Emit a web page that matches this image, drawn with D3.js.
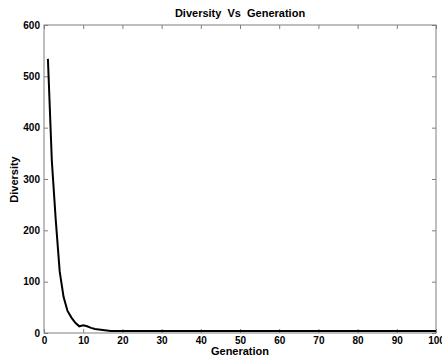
<!DOCTYPE html>
<html><head><meta charset="utf-8">
<script src="https://cdn.jsdelivr.net/npm/d3@7"></script>
<style>body{margin:0;background:#fff}svg{display:block}</style>
</head><body>
<script>
const generations = d3.range(1, 101);
const diversity = [534, 335, 220, 120, 70, 43, 30, 20, 13, 15, 13, 10, 8, 7, 6, 5]
  .concat(d3.range(17, 101).map(() => 4));
const xTicks = [0,10,20,30,40,50,60,70,80,90,100];
const yTicks = [0,100,200,300,400,500,600];
const title = "Diversity  Vs  Generation";
const xLabel = "Generation";
const yLabel = "Diversity";

const W = 442, H = 358;
const m = {left:44, right:6, top:25, bottom:25};
const svg = d3.select("body").append("svg").attr("width", W).attr("height", H);
const x = d3.scaleLinear().domain([0,100]).range([m.left, W - m.right]);
const y = d3.scaleLinear().domain([0,600]).range([H - m.bottom, m.top]);
const axisColor = "#7f7f7f";
const font = "Liberation Sans, Arial, sans-serif";

function style(g){
  g.select(".domain").remove();
  g.selectAll(".tick line").attr("stroke", axisColor);
  g.selectAll(".tick text").attr("fill","#000").attr("font-family",font).attr("font-size",10).attr("font-weight","bold");
}
svg.append("g").attr("transform",`translate(0,${y(0)})`)
  .call(d3.axisBottom(x).tickValues(xTicks).tickSizeInner(-4).tickSizeOuter(0).tickPadding(4)).call(style);
svg.append("g").attr("transform",`translate(0,${y(600)})`)
  .call(d3.axisTop(x).tickValues(xTicks).tickSizeInner(-4).tickSizeOuter(0).tickFormat("")).call(style);
svg.append("g").attr("transform",`translate(${x(0)},0)`)
  .call(d3.axisLeft(y).tickValues(yTicks).tickSizeInner(-4).tickSizeOuter(0).tickPadding(4)).call(style);
svg.append("g").attr("transform",`translate(${x(100)},0)`)
  .call(d3.axisRight(y).tickValues(yTicks).tickSizeInner(-4).tickSizeOuter(0).tickFormat("")).call(style);

svg.append("rect").attr("x", x(0)).attr("y", y(600)).attr("width", x(100)-x(0)).attr("height", y(0)-y(600))
  .attr("fill","none").attr("stroke",axisColor).attr("stroke-width",1);

const line = d3.line().x((d,i)=>x(generations[i])).y(d=>y(d));
svg.append("path").datum(diversity).attr("d", line).attr("fill","none").attr("stroke","#000").attr("stroke-width",2);

svg.append("text").attr("x", 240).attr("y", 17).attr("text-anchor","middle").attr("xml:space","preserve")
  .style("white-space","pre").attr("font-family",font).attr("font-size",11).attr("font-weight","bold").text(title);
svg.append("text").attr("x", 240).attr("y", 355).attr("text-anchor","middle")
  .attr("font-family",font).attr("font-size",11).attr("font-weight","bold").text(xLabel);
svg.append("text").attr("transform","translate(18,179.5) rotate(-90)").attr("text-anchor","middle")
  .attr("font-family",font).attr("font-size",11).attr("font-weight","bold").text(yLabel);
</script>
</body></html>
